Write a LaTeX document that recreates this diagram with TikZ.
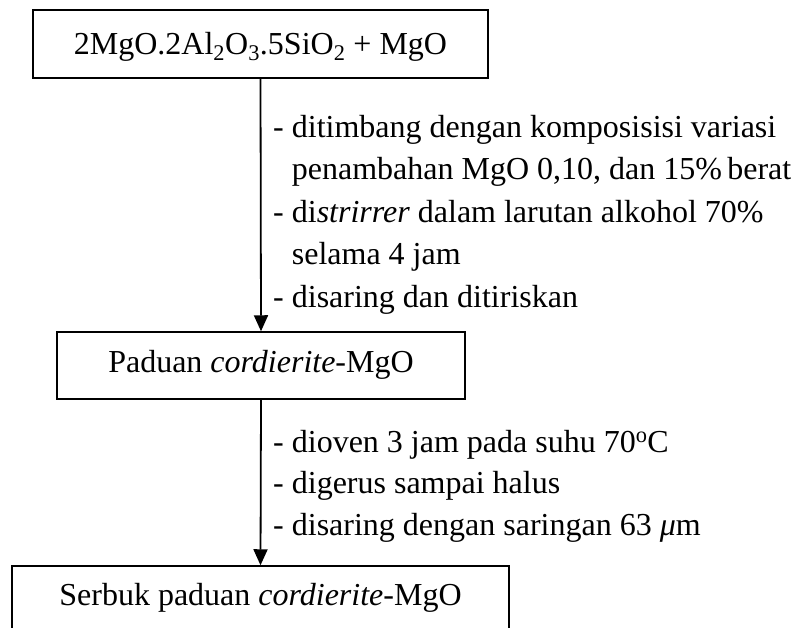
\documentclass[tikz,border=0pt]{standalone}
\usepackage{fontspec}
\setmainfont{Liberation Serif}
\usetikzlibrary{arrows.meta}
\begin{document}
\begin{tikzpicture}[x=1pt,y=-1pt,
  box/.style={draw,line width=1.5pt,inner sep=0pt,align=center,font=\fontsize{32}{38}\selectfont},
  notes/.style={inner sep=0pt,anchor=base west,align=left},
  flow/.style={line width=1.8pt,-{Triangle[length=16pt,width=14pt]}}]
\useasboundingbox (0,0) rectangle (792,627);
\node[box,minimum width=455pt,text height=44pt,text depth=24pt] (b1) at (260.5,44)
  {2MgO.2Al\textsubscript{2}O\textsubscript{3}.5SiO\textsubscript{2} + MgO};
\node[box,minimum width=408pt,text height=40pt,text depth=27pt] (b2) at (261,365.5)
  {Paduan \textit{cordierite}-MgO};
\node[box,minimum width=497pt,text height=39pt,text depth=29pt] (b3) at (260.5,600)
  {Serbuk paduan \textit{cordierite}-MgO};
\draw[flow] (b1.south) -- (b2.north);
\draw[flow] (b2.south) -- (b3.north);
\node[notes,font=\fontsize{32}{42.5}\selectfont] (t1) at (273,307)
  {- ditimbang dengan komposisisi variasi\\
   \phantom{- }penambahan MgO 0,10, dan 15\%\,berat\\
   - di\textit{strirrer} dalam larutan alkohol 70\%\\
   \phantom{- }selama 4 jam\\
   - disaring dan ditiriskan};
\node[notes,font=\fontsize{32}{41.5}\selectfont] (t2) at (273,535)
  {- dioven 3 jam pada suhu 70\textsuperscript{o}C\\
   - digerus sampai halus\\
   - disaring dengan saringan 63 \textit{μ}m};
\end{tikzpicture}
\end{document}
